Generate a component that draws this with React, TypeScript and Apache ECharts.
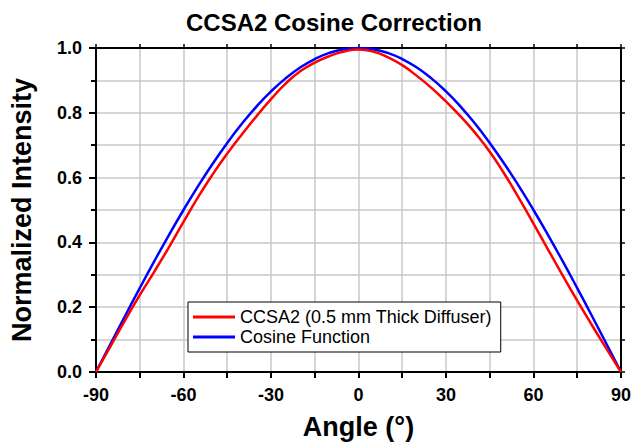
import React, { useEffect, useRef } from "react";
import * as echarts from "echarts";

const angles = [-90, -85, -80, -75, -70, -65, -60, -55, -50, -45, -40, -35, -30, -25, -20, -15, -10, -5, 0, 5, 10, 15, 20, 25, 30, 35, 40, 45, 50, 55, 60, 65, 70, 75, 80, 85, 90];

const ccsa2Values = [0, 0.08, 0.16, 0.237, 0.31, 0.385, 0.463, 0.54, 0.61, 0.674, 0.733, 0.789, 0.842, 0.89, 0.928, 0.955, 0.975, 0.989, 0.995, 0.989, 0.972, 0.947, 0.914, 0.877, 0.835, 0.789, 0.738, 0.68, 0.612, 0.537, 0.458, 0.378, 0.298, 0.22, 0.145, 0.072, 0];

const cosineValues = [0, 0.0872, 0.1736, 0.2588, 0.342, 0.4226, 0.5, 0.5736, 0.6428, 0.7071, 0.766, 0.8192, 0.866, 0.9063, 0.9397, 0.9659, 0.9848, 0.9962, 1, 0.9962, 0.9848, 0.9659, 0.9397, 0.9063, 0.866, 0.8192, 0.766, 0.7071, 0.6428, 0.5736, 0.5, 0.4226, 0.342, 0.2588, 0.1736, 0.0872, 0];

const seriesNames = ["CCSA2 (0.5 mm Thick Diffuser)", "Cosine Function"];
const titleText = "CCSA2 Cosine Correction";
const xName = "Angle (°)";
const yName = "Normalized Intensity";

const FONT = "'Liberation Sans', Arial, sans-serif";

export default function App() {
  const ref = useRef<HTMLDivElement>(null);
  useEffect(() => {
    if (!ref.current) return;
    const chart = echarts.init(ref.current, undefined, { renderer: "svg" });
    const gridColor = "#c8c8c8";
    const mainAxis = (isX: boolean) => ({
      type: "value",
      axisLine: { show: true, onZero: false, lineStyle: { color: "#000", width: 2 } },
      axisTick: { show: true, inside: false, length: isX ? 6 : 7, lineStyle: { color: "#000", width: 2 } },
      minorTick: { show: true, splitNumber: 2, length: isX ? 6 : 5, lineStyle: { color: "#000", width: 2 } },
      splitLine: { show: true, lineStyle: { color: gridColor, width: 1.5 } },
      minorSplitLine: { show: true, lineStyle: { color: gridColor, width: 1.5 } },
      nameTextStyle: { color: "#000", fontSize: 27, fontWeight: "bold", fontFamily: FONT },
      nameLocation: "middle",
    });
    const mirrorAxis = () => ({
      type: "value",
      axisLine: { show: true, onZero: false, lineStyle: { color: "#000", width: 2 } },
      axisTick: { show: true, inside: false, length: 4, lineStyle: { color: "#000", width: 1.5 } },
      minorTick: { show: true, splitNumber: 2, length: 4, lineStyle: { color: "#000", width: 1.5 } },
      splitLine: { show: false },
      axisLabel: { show: false },
    });
    chart.setOption({
      animation: false,
      backgroundColor: "#fff",
      title: {
        text: titleText,
        left: 329,
        textAlign: "center",
        top: 5,
        textStyle: { color: "#000", fontSize: 24, fontWeight: "bold", fontFamily: FONT },
      },
      grid: { left: 96, right: 10, top: 48, bottom: 69, containLabel: false },
      legend: {
        data: seriesNames,
        orient: "vertical",
        left: 188,
        top: 302,
        icon: "rect",
        itemWidth: 42,
        itemHeight: 3,
        itemGap: 2,
        padding: [6, 9, 6, 5],
        backgroundColor: "#fff",
        borderColor: "#000",
        borderWidth: 1,
        borderRadius: 0,
        textStyle: { color: "#000", fontSize: 18, fontFamily: FONT, lineHeight: 18 },
      },
      xAxis: [
        {
          ...mainAxis(true),
          position: "bottom",
          min: -90,
          max: 90,
          interval: 30,
          name: xName,
          nameGap: 41,
          axisLabel: { color: "#000", fontSize: 18, fontWeight: "bold", fontFamily: FONT, margin: 14 },
        },
        { ...mirrorAxis(), position: "top", min: -90, max: 90, interval: 30 },
      ],
      yAxis: [
        {
          ...mainAxis(false),
          position: "left",
          min: 0,
          max: 1,
          interval: 0.2,
          name: yName,
          nameGap: 61,
          axisLabel: {
            color: "#000",
            fontSize: 18,
            fontWeight: "bold",
            fontFamily: FONT,
            margin: 14,
            formatter: (v: number) => v.toFixed(1),
          },
        },
        { ...mirrorAxis(), position: "right", min: 0, max: 1, interval: 0.2 },
      ],
      series: [
        {
          name: seriesNames[1],
          type: "line",
          xAxisIndex: 0,
          yAxisIndex: 0,
          data: angles.map((a, i) => [a, cosineValues[i]]),
          smooth: true,
          symbol: "none",
          showSymbol: false,
          lineStyle: { color: "#0000ff", width: 2.5 },
          itemStyle: { color: "#0000ff" },
          z: 2,
        },
        {
          name: seriesNames[0],
          type: "line",
          xAxisIndex: 0,
          yAxisIndex: 0,
          data: angles.map((a, i) => [a, ccsa2Values[i]]),
          smooth: true,
          symbol: "none",
          showSymbol: false,
          lineStyle: { color: "#ff0000", width: 2.5 },
          itemStyle: { color: "#ff0000" },
          z: 3,
        },
      ],
    });
    return () => chart.dispose();
  }, []);
  return (
    <div
      ref={ref}
      style={{ position: "absolute", left: 0, top: 0, width: 634, height: 445, background: "#fff" }}
    />
  );
}
